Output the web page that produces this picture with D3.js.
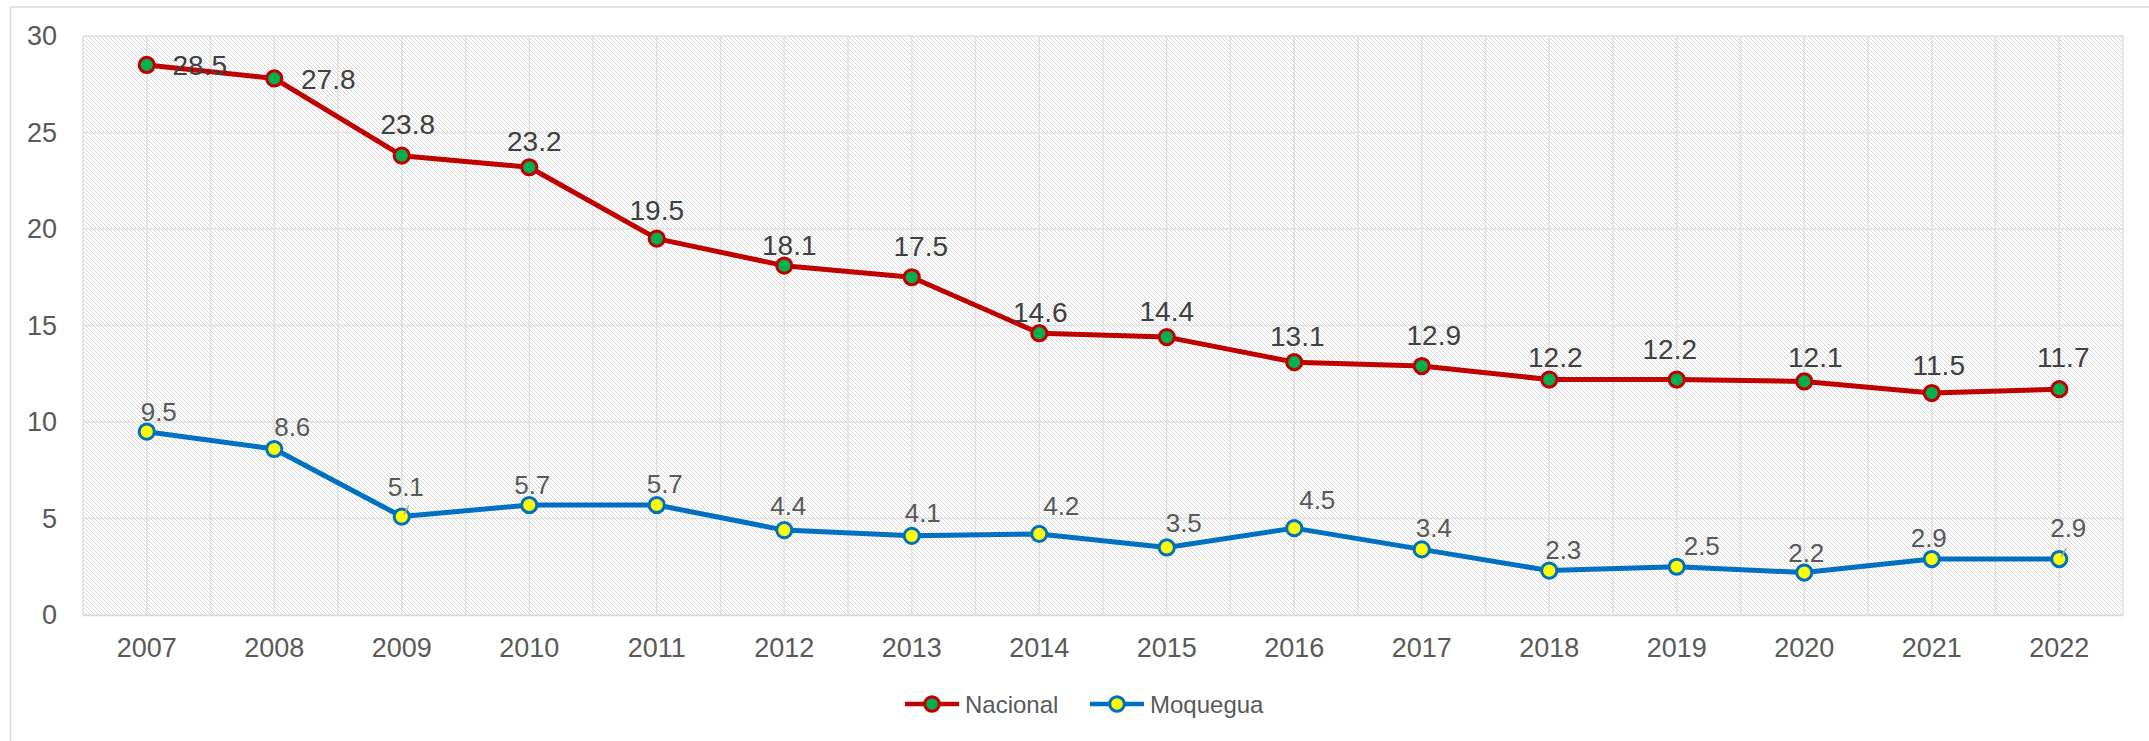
<!DOCTYPE html>
<html>
<head>
<meta charset="utf-8">
<script src="https://cdn.jsdelivr.net/npm/d3@7"></script>
<style>
  html, body { margin: 0; padding: 0; background: #fff; }
  svg { display: block; font-family: "Liberation Sans", Arial, sans-serif; }
</style>
</head>
<body>
<svg id="chart" width="2149" height="741"></svg>
<script>
// ---- data ----
const years = ["2007","2008","2009","2010","2011","2012","2013","2014","2015","2016","2017","2018","2019","2020","2021","2022"];
const nacional = [28.5, 27.8, 23.8, 23.2, 19.5, 18.1, 17.5, 14.6, 14.4, 13.1, 12.9, 12.2, 12.2, 12.1, 11.5, 11.7];
const moquegua = [9.5, 8.6, 5.1, 5.7, 5.7, 4.4, 4.1, 4.2, 3.5, 4.5, 3.4, 2.3, 2.5, 2.2, 2.9, 2.9];
const yTicks = [0, 5, 10, 15, 20, 25, 30];
const seriesNames = ["Nacional", "Moquegua"];

// ---- label placement (layout, px offsets from the point) ----
const nacOffsets = [[53,0],[54,0],[6,-31.5],[5,-26],[0,-29],[5,-21],[9,-31.5],[1,-21],[0,-26],[3,-26],[12,-31],[6,-23],[-7,-31],[11,-25],[7,-28],[4,-32]];
const moqOffsets = [[12,-20],[18,-22],[4,-30],[3,-20],[8,-21],[4,-24],[11,-23],[22,-28],[17,-25],[23,-29],[12,-22],[14,-21],[25,-21],[2,-20],[-3,-21],[9,-31]];
const moqLeaders = [2, 15];

const svg = d3.select("#chart");
const plot = { left: 83, right: 2123, top: 36, bottom: 615 };

// outer chart border
svg.append("rect").attr("x", 10.5).attr("y", 7).attr("width", 2300).attr("height", 900)
  .attr("fill", "#fff").attr("stroke", "#D9D9D9").attr("stroke-width", 1.5);

// hatch pattern
const defs = svg.append("defs");
const pat = defs.append("pattern").attr("id", "hatch").attr("patternUnits", "userSpaceOnUse")
  .attr("width", 4).attr("height", 4);
pat.append("rect").attr("width", 4).attr("height", 4).attr("fill", "#fff");
pat.append("path").attr("d", "M0,0 L4,4 M-1,3 L1,5 M3,-1 L5,1")
  .attr("stroke", "#D4D4D4").attr("stroke-width", 0.9);

const x = d3.scaleBand().domain(years).range([plot.left, plot.right]).padding(0);
const y = d3.scaleLinear().domain([0, 30]).range([plot.bottom, plot.top]);
const cx = d => x(d) + x.bandwidth() / 2;

svg.append("rect").attr("x", plot.left).attr("y", plot.top)
  .attr("width", plot.right - plot.left).attr("height", plot.bottom - plot.top)
  .attr("fill", "url(#hatch)");

// vertical gridlines at band edges and centers
const vLines = [];
years.forEach(yr => { vLines.push(x(yr)); vLines.push(cx(yr)); });
vLines.push(plot.right);
svg.append("g").selectAll("line").data(vLines).join("line")
  .attr("x1", d => d).attr("x2", d => d).attr("y1", plot.top).attr("y2", plot.bottom)
  .attr("stroke", "#E0E0E0").attr("stroke-width", 1.5);

// horizontal gridlines
svg.append("g").selectAll("line").data(yTicks).join("line")
  .attr("x1", plot.left).attr("x2", plot.right).attr("y1", d => y(d)).attr("y2", d => y(d))
  .attr("stroke", "#E0E0E0").attr("stroke-width", 1.5);

// axes
const yAxis = svg.append("g").attr("transform", `translate(${plot.left},0)`)
  .call(d3.axisLeft(y).tickValues(yTicks).tickSize(0).tickPadding(26).tickFormat(d3.format("d")));
yAxis.select(".domain").remove();
yAxis.selectAll("text").attr("fill", "#595959").attr("font-size", 27)
  .attr("font-family", "Liberation Sans, Arial, sans-serif");

const xAxis = svg.append("g").attr("transform", `translate(0,${plot.bottom})`)
  .call(d3.axisBottom(x).tickSize(0).tickPadding(23));
xAxis.select(".domain").attr("stroke", "#D9D9D9").attr("stroke-width", 1.5);
xAxis.selectAll("text").attr("fill", "#595959").attr("font-size", 27)
  .attr("font-family", "Liberation Sans, Arial, sans-serif");

// series
const series = [
  { name: seriesNames[0], values: nacional, line: "#C00000", fill: "#00B050", offsets: nacOffsets, labelColor: "#404040", labelSize: 28 },
  { name: seriesNames[1], values: moquegua, line: "#0070C0", fill: "#FFFF00", offsets: moqOffsets, labelColor: "#595959", labelSize: 26 }
];

const lineGen = d3.line().x((d, i) => cx(years[i])).y(d => y(d));

series.forEach(s => {
  const g = svg.append("g");
  g.append("path").datum(s.values).attr("d", lineGen)
    .attr("fill", "none").attr("stroke", s.line).attr("stroke-width", 5)
    .attr("stroke-linejoin", "round").attr("stroke-linecap", "round");
  g.selectAll("circle").data(s.values).join("circle")
    .attr("cx", (d, i) => cx(years[i])).attr("cy", d => y(d)).attr("r", 7.6)
    .attr("fill", s.fill).attr("stroke", s.line).attr("stroke-width", 3);
});

// leader lines for Moquegua labels
svg.append("g").selectAll("line").data(moqLeaders).join("line")
  .attr("x1", i => cx(years[i]) + 2).attr("y1", i => y(moquegua[i]) - 2)
  .attr("x2", i => cx(years[i]) + 7).attr("y2", i => y(moquegua[i]) - 11)
  .attr("stroke", "#A6A6A6").attr("stroke-width", 1.5);

// data labels
series.forEach(s => {
  svg.append("g").selectAll("text").data(s.values).join("text")
    .attr("x", (d, i) => cx(years[i]) + s.offsets[i][0])
    .attr("y", (d, i) => y(d) + s.offsets[i][1] + s.labelSize * 0.36)
    .attr("text-anchor", "middle")
    .attr("font-size", s.labelSize).attr("fill", s.labelColor)
    .text(d => d3.format(".1f")(d));
});

// legend
const legendY = 704;
const legendItems = [
  { s: series[0], x0: 905 },
  { s: series[1], x0: 1090 }
];
legendItems.forEach(it => {
  const g = svg.append("g");
  g.append("line").attr("x1", it.x0).attr("x2", it.x0 + 54).attr("y1", legendY).attr("y2", legendY)
    .attr("stroke", it.s.line).attr("stroke-width", 4.5);
  g.append("circle").attr("cx", it.x0 + 27).attr("cy", legendY).attr("r", 7.3)
    .attr("fill", it.s.fill).attr("stroke", it.s.line).attr("stroke-width", 3);
  g.append("text").attr("x", it.x0 + 60).attr("y", legendY + 24 * 0.36)
    .attr("font-size", 24).attr("fill", "#595959").text(it.s.name);
});
</script>
</body>
</html>
